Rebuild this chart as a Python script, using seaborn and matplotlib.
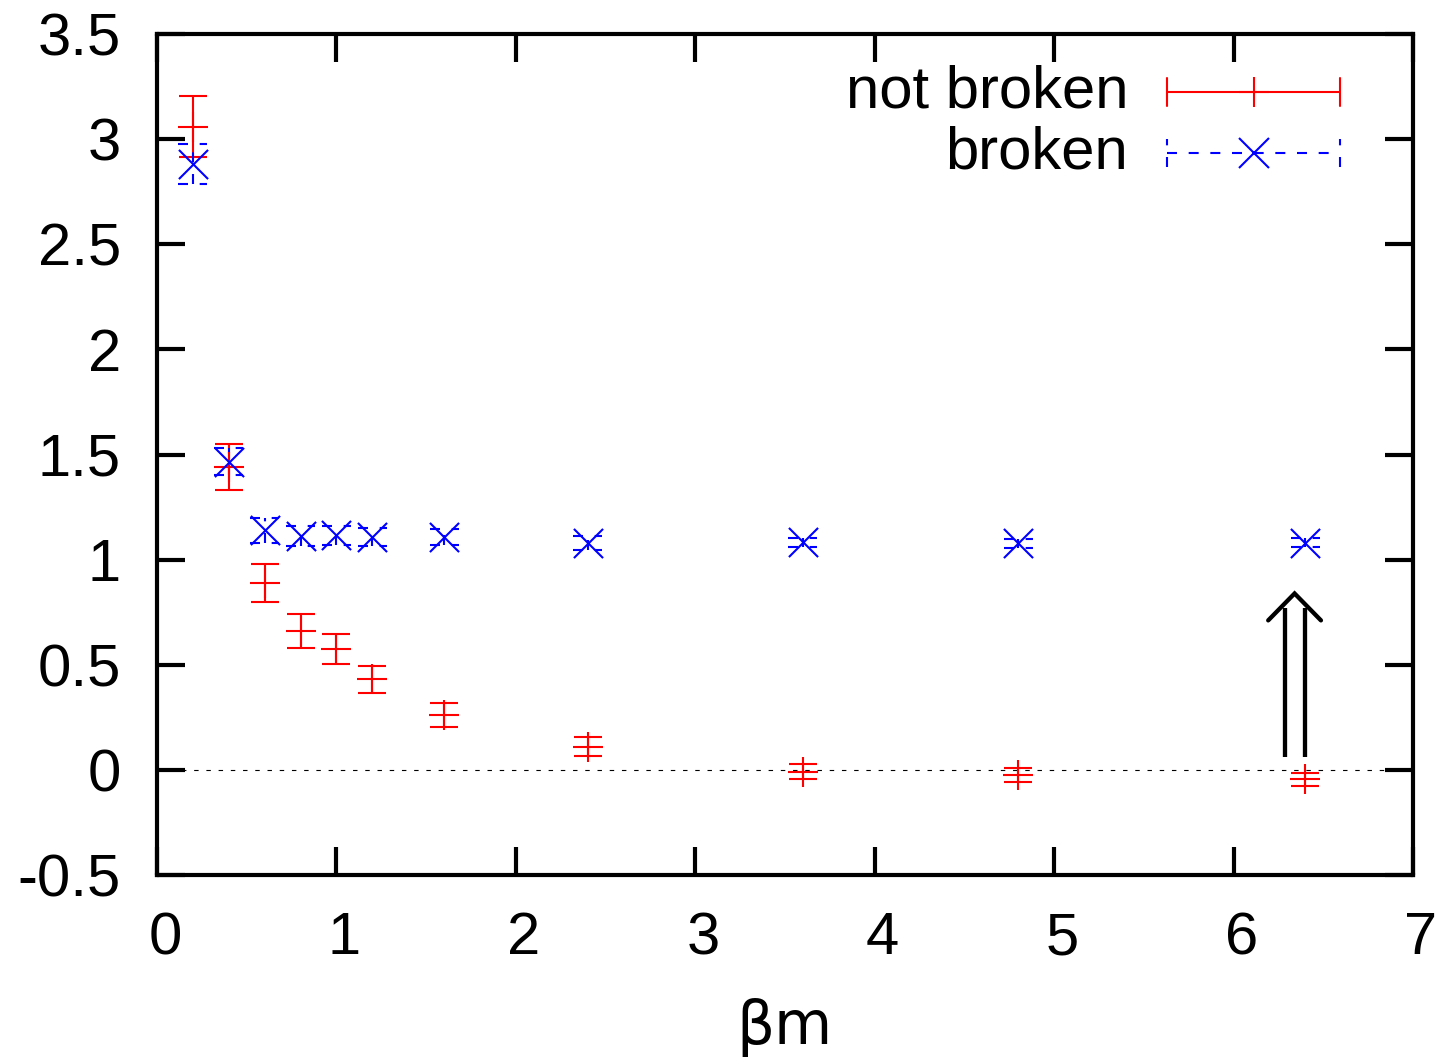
import numpy as np
import pandas as pd
import matplotlib
matplotlib.use("Agg")
import matplotlib.pyplot as plt
from matplotlib.ticker import FuncFormatter, MultipleLocator
from matplotlib.transforms import ScaledTranslation
import seaborn as sns

# data
beta_m = [0.2, 0.4, 0.6, 0.8, 1.0, 1.2, 1.6, 2.4, 3.6, 4.8, 6.4]
not_broken = [3.06, 1.44, 0.89, 0.66, 0.575, 0.43, 0.26, 0.11, -0.008, -0.025, -0.045]
not_broken_err = [0.146, 0.11, 0.09, 0.08, 0.072, 0.064, 0.057, 0.046, 0.037, 0.033, 0.03]
broken = [2.88, 1.465, 1.14, 1.112, 1.115, 1.108, 1.108, 1.08, 1.082, 1.077, 1.08]
broken_err = [0.095, 0.064, 0.06, 0.048, 0.046, 0.044, 0.038, 0.033, 0.023, 0.023, 0.022]
series_labels = ["not broken", "broken"]

# arrow annotation (double shafted, pointing up)
arrow_x = 6.34
arrow_y0 = 0.063
arrow_y1 = 0.839

sns.set_style("ticks")
plt.rcParams["font.family"] = ["Liberation Sans", "DejaVu Sans"]
plt.rcParams["axes.unicode_minus"] = False
plt.rcParams["text.color"] = "black"
plt.rcParams["axes.labelcolor"] = "black"
plt.rcParams["xtick.labelcolor"] = "black"
plt.rcParams["ytick.labelcolor"] = "black"

df = pd.DataFrame({"x": beta_m, "nb": not_broken, "nb_err": not_broken_err,
                   "b": broken, "b_err": broken_err})

fig = plt.figure(figsize=(14.41, 10.61), dpi=100)
ax = fig.add_axes([157 / 1441, 1 - 875 / 1061, 1256 / 1441, 841 / 1061])

red = "#ff0000"
blue = "#0000ff"
cap = 0.081  # half width of caps in data units
dash = (0, (4.8, 5.6))

# zero line
ax.axhline(0, color="black", lw=0.8, ls=(0, (4, 7)), zorder=1)

# not broken: solid error bars with caps
ax.errorbar(df["x"], df["nb"], yerr=df["nb_err"], fmt="none", ecolor=red,
            elinewidth=1.5, capsize=10.4, capthick=1.5, zorder=3)
sns.scatterplot(data=df, x="x", y="nb", marker="+", s=440, color=red,
                linewidth=1.5, ax=ax, zorder=4)

# broken: dashed error bars with dashed caps
ax.vlines(df["x"], df["b"] - df["b_err"], df["b"] + df["b_err"], colors=blue,
          lw=1.5, linestyles=dash, zorder=3)
for yy in [df["b"] - df["b_err"], df["b"] + df["b_err"]]:
    ax.hlines(yy, df["x"] - cap, df["x"] + cap, colors=blue, lw=1.5,
              linestyles=dash, zorder=3)
sns.scatterplot(data=df, x="x", y="b", marker="x", s=440, color=blue,
                linewidth=1.5, ax=ax, zorder=4)

# double arrow
dx = 0.056
for sx in (arrow_x - dx, arrow_x + dx):
    ax.plot([sx, sx], [arrow_y0, arrow_y1 - 0.068], color="black", lw=3.1,
            solid_capstyle="butt")
ax.plot([arrow_x - 0.147, arrow_x, arrow_x + 0.147],
        [arrow_y1 - 0.128, arrow_y1, arrow_y1 - 0.128], color="black", lw=3.1,
        solid_capstyle="round", solid_joinstyle="miter")

# hand-made legend in gnuplot style
tr = ax.transAxes
x0, x1, xm, xt = 0.8041, 0.9419, 0.8734, 0.7731
ch = 0.0166
rows = [0.9311, 0.8587]
for yr, lab, col, ls, mk in zip(rows, series_labels, [red, blue], ["-", dash], ["+", "x"]):
    ax.plot([x0, x1], [yr, yr], color=col, lw=1.5, ls=ls, transform=tr)
    for xc in (x0, x1):
        ax.plot([xc, xc], [yr - ch, yr + ch], color=col, lw=1.5, ls=ls, transform=tr)
    ax.plot([xm], [yr], marker=mk, ms=21, mew=1.5, color=col, transform=tr)
    ax.text(xt, yr, lab, transform=tr, ha="right", va="center", fontsize=43,
            color="black")

ax.set_xlim(0, 7)
ax.set_ylim(-0.5, 3.5)
ax.xaxis.set_major_locator(MultipleLocator(1))
ax.yaxis.set_major_locator(MultipleLocator(0.5))
fmt = FuncFormatter(lambda v, p: "%g" % v)
ax.xaxis.set_major_formatter(fmt)
ax.yaxis.set_major_formatter(fmt)
ax.tick_params(direction="in", length=20, width=3, labelsize=43, pad=26,
               top=True, right=True, color="black", labelcolor="black")
for s in ax.spines.values():
    s.set_linewidth(3)
    s.set_color("black")
    s.set_visible(True)

# gnuplot puts the x labels a little to the right
shift = ScaledTranslation(8 / 100, 0, fig.dpi_scale_trans)
for lab in ax.get_xticklabels():
    lab.set_transform(lab.get_transform() + shift)

ax.set_ylabel("")
ax.set_xlabel("βm", fontsize=43, family=["DejaVu Sans"], labelpad=23, color="black")

fig.savefig("out.png", dpi=100)
